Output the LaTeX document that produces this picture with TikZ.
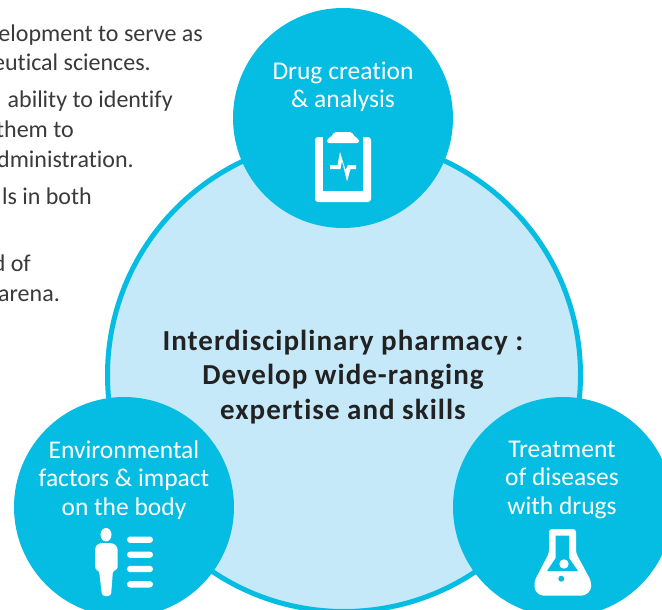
\documentclass[tikz,border=0pt]{standalone}
\usepackage{fontspec}
\setmainfont[Ligatures={NoCommon,TeX}]{Carlito}
\definecolor{cy}{HTML}{05BCE2}
\definecolor{lb}{HTML}{C6E9FA}
\definecolor{tx}{HTML}{3A3A3C}
\definecolor{dk}{HTML}{222222}
\tikzset{
 side/.style={anchor=base east,text=tx,font=\fontsize{24}{24}\selectfont,inner sep=0pt},
 cap1/.style={align=center,text=white,font=\fontsize{25.5}{28.3}\selectfont,inner sep=0pt},
 main/.style={align=center,text=dk,font=\fontsize{29}{34.5}\selectfont\bfseries\addfontfeatures{LetterSpace=3.5},inner sep=0pt},
 big/.style={circle,fill=lb,draw=cy,line width=5pt,minimum size=473pt,inner sep=0pt},
 small/.style={circle,fill=cy,minimum size=220pt,inner sep=0pt},
 ic/.style={fill=white,draw=none}
}
\begin{document}
\begin{tikzpicture}[x=1pt,y=-1pt]
\useasboundingbox[fill=white] (0,0) rectangle (662,610);
\clip (0,0) rectangle (662,610);
\node[big] (core) at (344,375) {};
\node[small] (top) at (343,118) {};
\node[small] (left) at (124,507) {};
\node[small] (right) at (563,507) {};
% side text
\node[side] (s1) at (203,42) {elopment to serve as};
\node[side] (s2) at (151,70.5) {eutical sciences.};
\node[side] (s3) at (173,108) {ability to identify};
\node[side] (s4) at (74,137) {them to};
\node[side] (s5) at (134,167.5) {dministration.};
\node[side] (s6) at (92,204) {ls in both};
\node[side] (s7) at (31,271.5) {d of};
\node[side] (s8) at (60,301) {arena.};
% captions
\node[cap1] (t1) at (343,87) {Drug creation\\\& analysis};
\node[cap1] (t2) at (124,480) {Environmental\\factors \& impact\\on the body};
\node[cap1] (t3) at (562,480) {Treatment\\of diseases\\with drugs};
\node[main] (t0) at (343,377) {Interdisciplinary pharmacy :\\Develop wide-ranging\\expertise and skills};
% clipboard icon
\fill[ic,rounded corners=3pt] (315,137) rectangle (371,202);
\fill[cy] (323,130) rectangle (363,191);
\fill[ic,rounded corners=2pt] (327,143) -- (327,138.5) -- (331,137.5) -- (334,132) -- (352,132) -- (355,137.5) -- (359,138.5) -- (359,143) -- cycle;
\fill[ic] (330,165) -- (337.5,165) -- (340,152) -- (345.5,170) -- (348,165) -- (356,165) -- (356,169) -- (350.5,169) -- (347,181.5) -- (342,161) -- (340.5,169) -- (330,169) -- cycle;
% person icon
\fill[ic] (106,534.7) ellipse [x radius=5.5,y radius=6.7];
\fill[ic,rounded corners=3pt] (95,570) -- (95,547) -- (99,543) -- (113,543) -- (117.7,547) -- (117.7,570) -- (113,570) -- (111,596) -- (102,596) -- (99,570) -- cycle;
\foreach \yy in {539.7,554.7,569,584.3}{
 \fill[ic,rounded corners=3.2pt] (127,\yy-3.2) rectangle (153,\yy+3.2);
}
% flask icon
\fill[ic,rounded corners=3pt] (549,529) -- (576,529) -- (576,553) -- (591,581) -- (591,590) -- (585,595.5) -- (540,595.5) -- (534.5,590) -- (534.5,581) -- (549,553) -- cycle;
\fill[cy] (555.7,535.7) -- (569,535.7) -- (569,558) -- (578,571) -- (547,571) -- (555.7,558) -- cycle;
\fill[ic] (564,564) circle (4.7);
\fill[cy] (561.3,578.7) circle (3);
\end{tikzpicture}
\end{document}
